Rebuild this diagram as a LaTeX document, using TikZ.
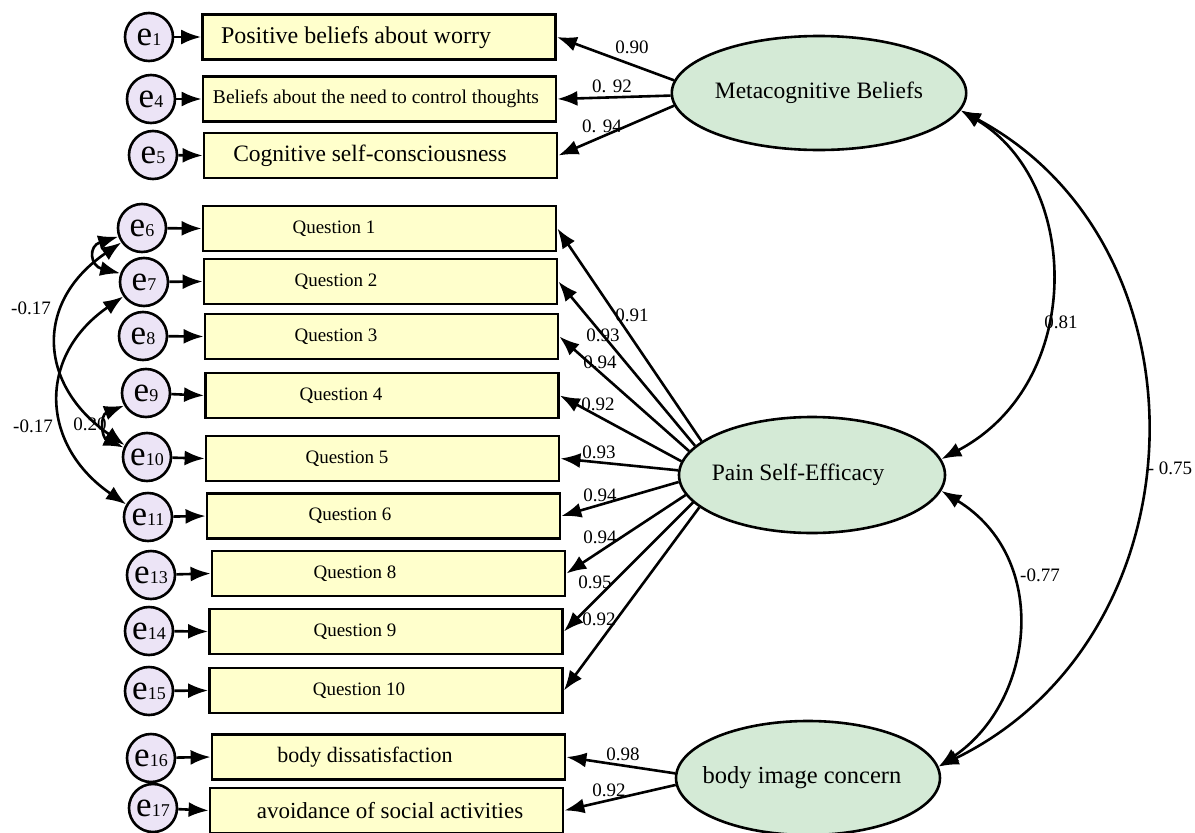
\documentclass[tikz,border=0pt]{standalone}
\usepackage{fontspec}
\setmainfont{Liberation Serif}
\usetikzlibrary{arrows.meta,shapes.geometric}
\definecolor{boxfill}{RGB}{255,255,204}
\definecolor{ellfill}{RGB}{212,234,214}
\definecolor{errfill}{RGB}{236,228,246}
\newcommand\errlab[1]{{\fontsize{35}{35}\selectfont e}{\fontsize{18}{18}\selectfont #1}}
\newcommand\fs[1]{\fontsize{#1}{#1}\selectfont}
\begin{document}
\begin{tikzpicture}[x=1pt,y=-1pt,
  ind/.style={draw, line width=2.8pt, fill=boxfill, minimum width=353pt, minimum height=45pt, inner sep=0pt},
  lat/.style={draw, ellipse, line width=2.6pt, fill=ellfill, minimum width=252pt, minimum height=114pt, inner sep=0pt},
  err/.style={draw, circle, line width=2.6pt, fill=errfill, minimum size=48pt, inner sep=0pt},
  arr/.style={line width=2.6pt, -{Latex[length=20pt,width=15pt]}},
  cov/.style={line width=2.6pt, {Latex[length=20pt,width=15pt]}-{Latex[length=20pt,width=15pt]}},
  num/.style={font=\fs{19}, inner sep=0pt},
  txt/.style={inner sep=0pt},
]
\useasboundingbox (0,0) rectangle (1195,833);
\fill[white] (0,0) rectangle (1195,833);

% indicator boxes
\node[ind] (b1) at (379,37) {};
\node[ind] (b2) at (379.5,99) {};
\node[ind] (b3) at (380.5,155.5) {};
\node[ind] (q1) at (379.5,228.5) {};
\node[ind] (q2) at (380.5,281.5) {};
\node[ind] (q3) at (381.5,336.5) {};
\node[ind] (q4) at (382,395.5) {};
\node[ind] (q5) at (382.5,458.5) {};
\node[ind] (q6) at (383.5,516) {};
\node[ind] (q8) at (388.5,573.5) {};
\node[ind] (q9) at (386,631.5) {};
\node[ind] (q10) at (386,690.5) {};
\node[ind] (bd) at (388.5,757) {};
\node[ind] (av) at (386.5,810.5) {};

% box texts
\node[txt, font=\fs{24}] (b1t) at (356,38) {Positive beliefs about worry};
\node[txt, font=\fs{19.5}] (b2t) at (376,99) {Beliefs about the need to control thoughts};
\node[txt, font=\fs{23.5}] (b3t) at (370,156) {Cognitive self-consciousness};
\node[txt, font=\fs{19}] (q1t) at (334,228.5) {Question 1};
\node[txt, font=\fs{19}] (q2t) at (336,281.5) {Question 2};
\node[txt, font=\fs{19}] (q3t) at (336,336.5) {Question 3};
\node[txt, font=\fs{19}] (q4t) at (341,395.5) {Question 4};
\node[txt, font=\fs{19}] (q5t) at (347,458.5) {Question 5};
\node[txt, font=\fs{19}] (q6t) at (350,516) {Question 6};
\node[txt, font=\fs{19}] (q8t) at (355,573.5) {Question 8};
\node[txt, font=\fs{19}] (q9t) at (355,631.5) {Question 9};
\node[txt, font=\fs{19}] (q10t) at (359,690.5) {Question 10};
\node[txt, font=\fs{22}] (bdt) at (365,757) {body dissatisfaction};
\node[txt, font=\fs{23}] (avt) at (390,810.5) {avoidance of social activities};

% error terms
\node[err] (e1) at (149,37) {\errlab{1}};
\node[err] (e4) at (151,99) {\errlab{4}};
\node[err] (e5) at (153,155) {\errlab{5}};
\node[err] (e6) at (142,228) {\errlab{6}};
\node[err] (e7) at (144,282) {\errlab{7}};
\node[err] (e8) at (143,336) {\errlab{8}};
\node[err] (e9) at (146,393) {\errlab{9}};
\node[err] (e10) at (147,457) {\errlab{10}};
\node[err] (e11) at (148,517) {\errlab{11}};
\node[err] (e13) at (151,575) {\errlab{13}};
\node[err] (e14) at (149,631) {\errlab{14}};
\node[err] (e15) at (149,691) {\errlab{15}};
\node[err] (e16) at (151,758) {\errlab{16}};
\node[err] (e17) at (153,808) {\errlab{17}};

\foreach \e/\b in {e1/b1,e4/b2,e5/b3,e6/q1,e7/q2,e8/q3,e9/q4,e10/q5,e11/q6,e13/q8,e14/q9,e15/q10,e16/bd,e17/av}
  \draw[arr] (\e) -- (\b.west);

% latent variables
\node[lat, font=\fs{23.5}] (mb) at (819,93) {Metacognitive Beliefs};
\node[lat, minimum width=266pt, minimum height=116pt, font=\fs{23.5}] (pse) at (812,475) {\hspace*{-28pt}Pain Self-Efficacy};
\node[lat, font=\fs{24.5}] (bic) at (808,778) {\hspace*{-12pt}body image concern};

% loadings
\draw[arr] (mb.175.5) -- (b1.east);
\draw[arr] (mb.181) -- (b2.east);
\draw[arr] (mb.185) -- (b3.east);
\draw[arr] (pse.163.5) -- (q1.east);
\draw[arr] (pse.166.3) -- (q2.east);
\draw[arr] (pse.169.3) -- (q3.east);
\draw[arr] (pse.174) -- (q4.east);
\draw[arr] (pse.178.7) -- (q5.east);
\draw[arr] (pse.183.5) -- (q6.east);
\draw[arr] (pse.189) -- (q8.east);
\draw[arr] (pse.193) -- (q9.east);
\draw[arr] (pse.196.4) -- (q10.east);
\draw[arr] (bic.178.5) -- (bd.east);
\draw[arr] (bic.183.5) -- (av.east);

% latent covariances
\draw[cov] (mb.-7) .. controls (1081,182) and (1086,383) .. (pse.7.5);
\draw[cov] (mb.-7) .. controls (1215,246) and (1206,636) .. (bic.5);
\draw[cov] (pse.-7) .. controls (1051,558) and (1035,701) .. (bic.5);

% error covariances
\draw[cov] (e6.215) .. controls (34,302) and (38,385) .. (e10.152);
\draw[cov] (e7.215) .. controls (37,356) and (40,445) .. (e11.150);
\draw[cov] (e6.200) .. controls (88,246) and (90,266) .. (e7.160);
\draw[cov] (e9.210) .. controls (100,415) and (101,437) .. (e10.158);

% labels
\node[num] (l1) at (632,47) {0.90};
\node[num] (l2) at (612,86) {0. 92};
\node[num] (l3) at (602,126) {0. 94};
\node[num] (l4) at (632,315) {0.91};
\node[num] (l5) at (603,335) {0.93};
\node[num] (l6) at (600,362) {0.94};
\node[num] (l7) at (598,404) {0.92};
\node[num] (l8) at (599,452) {0.93};
\node[num] (l9) at (600,495) {0.94};
\node[num] (l10) at (600,537) {0.94};
\node[num] (l11) at (595,582) {0.95};
\node[num] (l12) at (599,619) {0.92};
\node[num] (l13) at (623,754) {0.98};
\node[num] (l14) at (609,790) {0.92};
\node[num] (l15) at (1061,322) {0.81};
\node[num] (l16) at (1040,575) {-0.77};
\node[num] (l17) at (1170,468) {- 0.75};
\node[num] (l18) at (31,308) {-0.17};
\node[num] (l19) at (33,426) {-0.17};
\node[num] (l20) at (90,424) {0.20};
\end{tikzpicture}
\end{document}
